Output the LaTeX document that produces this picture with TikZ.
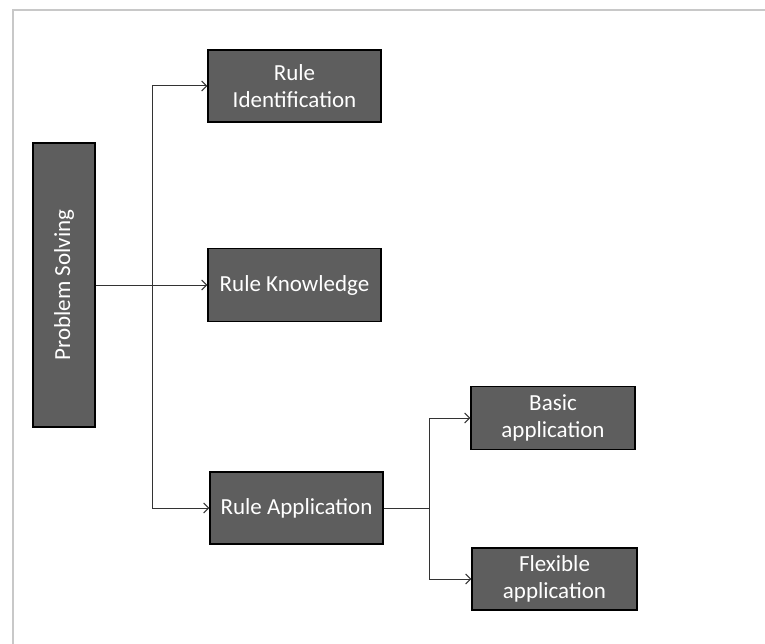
\documentclass[tikz,border=0pt]{standalone}
\usepackage{fontspec}
\setsansfont{Carlito}
\usetikzlibrary{positioning,arrows.meta}
\definecolor{boxgray}{RGB}{94,94,94}
\definecolor{framegray}{RGB}{200,200,200}
\tikzset{
  rulebox/.style={draw=black, line width=1.3pt, fill=boxgray, text=white,
    font=\sffamily\fontsize{23}{27}\selectfont, align=center, inner sep=0pt},
  link/.style={black!80, line width=1pt, -{Straight Barb[length=5pt,width=10pt]}}
}
\begin{document}
\begin{tikzpicture}[x=1pt, y=-1pt]
\useasboundingbox (0,0) rectangle (765,644);
% frame
\draw[framegray, line width=1.5pt] (13,644) -- (13,10) -- (765,10);
% boxes
\node[rulebox, minimum width=62pt, minimum height=284pt] (ps) at (64,285)
  {\rotatebox{90}{Problem Solving}};
\node[rulebox, minimum width=173pt, minimum height=72pt] (ri) at (294.5,86) {Rule\\Identification};
\node[rulebox, minimum width=173pt, minimum height=73pt] (rk) at (294.5,285) {Rule Knowledge};
\node[rulebox, minimum width=173pt, minimum height=72pt] (ra) at (296.5,508) {Rule Application};
\node[rulebox, minimum width=164pt, minimum height=63pt] (ba) at (553,418) {Basic\\application};
\node[rulebox, minimum width=165pt, minimum height=62pt] (fa) at (554.5,579) {Flexible\\application};
% connectors
\coordinate (j1) at (152,285);
\coordinate (j2) at (429,508);
\draw[link] (ps.east) -- (rk.west);
\draw[link] (j1) |- (ri.west);
\draw[link] (j1) |- (ra.west);
\draw[black!80, line width=1pt] (ra.east) -- (j2);
\draw[link] (j2) |- (ba.west);
\draw[link] (j2) |- (fa.west);
\end{tikzpicture}
\end{document}
